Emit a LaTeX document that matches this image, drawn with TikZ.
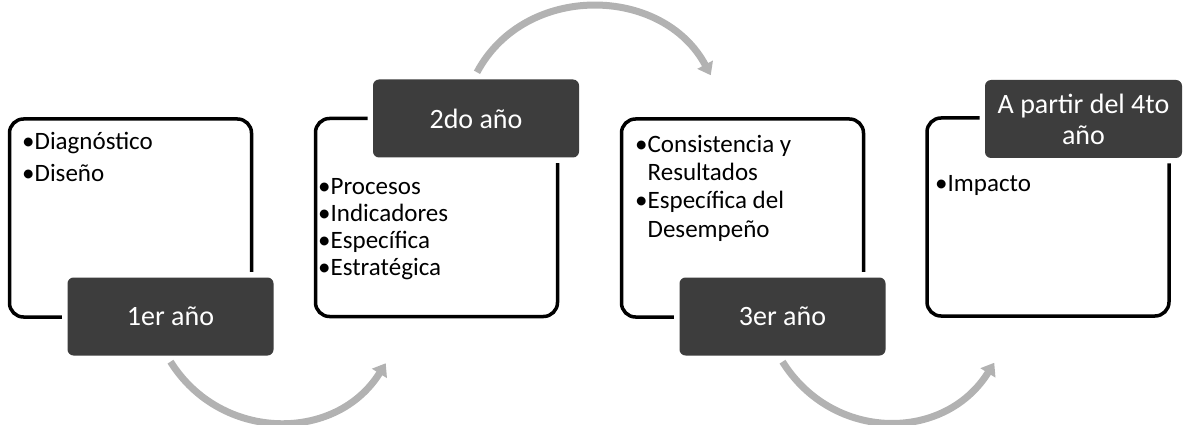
\documentclass[tikz,border=0pt]{standalone}
\usepackage{fontspec}
\setmainfont{Carlito}
\usetikzlibrary{positioning}
\usetikzlibrary{arrows.meta}
\usetikzlibrary{calc}

\tikzset{
  yearbox/.style={draw=black,line width=3.5pt,rounded corners=14pt,fill=white,
    minimum width=242pt,minimum height=198pt,inner sep=0pt},
  yeartag/.style={fill=black!76,text=white,rounded corners=6pt,
    preaction={draw=white,line width=11pt},
    minimum width=206pt,minimum height=78pt,inner sep=0pt,align=center,
    font=\fontsize{28}{31}\selectfont},
  items/.style={align=left,inner sep=0pt,anchor=base west,
    font=\fontsize{25}{#1}\selectfont},
  cyclearrow/.style={draw=black!30,line width=7pt,-{Triangle[length=12pt,width=17pt]}}
}

\begin{document}
\begin{tikzpicture}[x=1pt,y=-1pt]
  \useasboundingbox (0,0) rectangle (1187,425);

  % cajas blancas
  \node[yearbox] (box1) at (130.5,218){};
  \node[yearbox] (box2) at (436.5,217.5){};
  \node[yearbox] (box3) at (742.5,218){};
  \node[yearbox] (box4) at (1048,217){};

  % etiquetas oscuras
  \node[yeartag] (tag1) at (170.5,316.5){1er año};
  \node[yeartag] (tag2) at (476,118.5){2do año};
  \node[yeartag] (tag3) at (782.5,316.5){3er año};
  \node[yeartag,minimum width=197pt] (tag4) at (1083.5,119){A partir del 4to\\año};

  % contenido (base = ultima linea)
  \node[items=32] (txt1) at (22,182){•Diagnóstico\\•Diseño};
  \node[items=26.7] (txt2) at (318,275){•Procesos\\•Indicadores\\•Específica\\•Estratégica};
  \node[items=28.3] (txt3) at (635,237){•Consistencia y\\\hphantom{•}Resultados\\•Específica del\\\hphantom{•}Desempeño};
  \node[items=28] (txt4) at (935,192){•Impacto};

  % flechas
  \coordinate (a1from) at ($(tag1.south)+(0,6)$);
  \coordinate (a1to) at ($(box2.south west)+(72,45)$);
  \coordinate (a2from) at ($(tag2.north)+(1,-7)$);
  \coordinate (a2to) at ($(box3.north west)+(91,-42)$);
  \coordinate (a3from) at ($(tag3.south)+(0,6)$);
  \coordinate (a3to) at ($(box4.south west)+(69,45)$);
  \draw[cyclearrow](a1from) .. controls +(50,80) and +(-50,80) .. (a1to);
  \draw[cyclearrow](a2from) .. controls +(48,-90) and +(-48,-90) .. (a2to);
  \draw[cyclearrow](a3from) .. controls +(50,80) and +(-50,80) .. (a3to);
\end{tikzpicture}
\end{document}
